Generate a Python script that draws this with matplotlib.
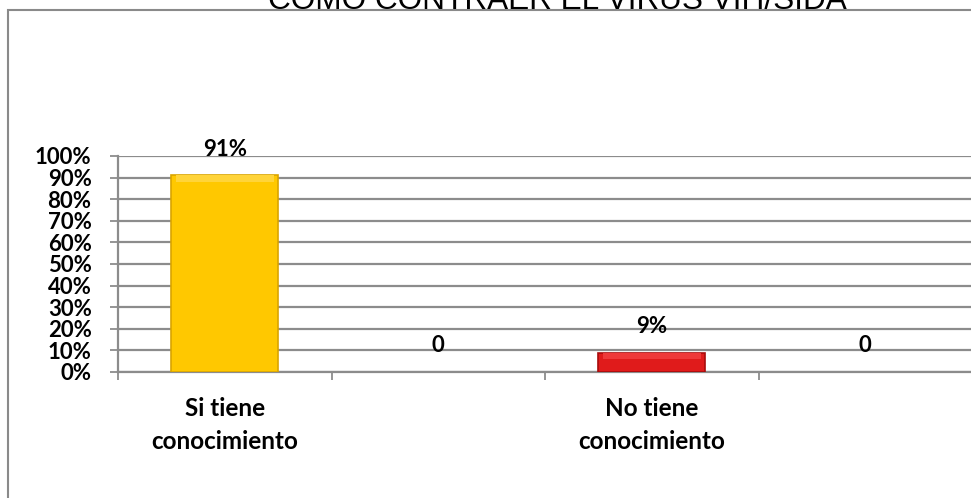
import matplotlib.pyplot as plt
from matplotlib.patches import Rectangle

categories = ['Si tiene\nconocimiento', '', 'No tiene\nconocimiento', '']
values = [0.91, 0.0, 0.09, 0.0]
labels = ['91%', '0', '9%', '0']
bar_colors = ['#FFC800', '#FFC800', '#E01B1B', '#E01B1B']
edge_colors = ['#D9A400', '#D9A400', '#A80C0C', '#A80C0C']
bevel_colors = ['#FFD43A', '#FFD43A', '#EE3A3A', '#EE3A3A']
title = 'CÓMO CONTRAER EL VIRUS VIH/SIDA'

grid_col = '#8c8c8c'
label_font = 'Lato'

fig = plt.figure(figsize=(9.71, 4.98), dpi=100)
W, H = 971, 498
ax = fig.add_axes([118 / W, 1 - 372 / H, 854 / W, 216 / H])

x = range(len(values))
bevel = 0.03
# only the non-empty slots get a drawn bar
for i, v in enumerate(values):
    if v > 0:
        ax.bar(i, v, width=0.5, color=bar_colors[i], edgecolor=edge_colors[i],
               linewidth=1.2, zorder=3)
        # lighter strip along the top edge, like the bevel in the original
        ax.bar(i, min(bevel, v / 3), bottom=v - min(bevel, v / 3), width=0.46,
               color=bevel_colors[i], linewidth=0, zorder=3.5)
    ax.annotate(labels[i], (i, v), xytext=(0, 19), textcoords='offset points',
                ha='center', va='center', fontsize=16, fontweight='bold',
                family=label_font, color='black', zorder=4)

ax.set_xlim(-0.5, len(values) - 0.5)
ax.set_ylim(0, 1)
ax.set_yticks([i / 10 for i in range(11)])
ax.set_yticklabels([f'{i * 10}%' for i in range(11)])
ax.yaxis.grid(True, color=grid_col, linewidth=1.6, zorder=0)
ax.set_axisbelow(True)

ax.set_xticks(list(x))
ax.set_xticklabels(categories, linespacing=1.55)
ax.set_xticks([i - 0.5 for i in range(len(values) + 1)], minor=True)
ax.tick_params(axis='x', which='major', length=0, pad=18)
ax.tick_params(axis='x', which='minor', length=6, width=1.3, color=grid_col)
ax.tick_params(axis='y', length=6, width=1.3, color=grid_col, pad=13)

for lab in ax.get_xticklabels():
    lab.set_fontsize(17.5)
    lab.set_fontweight('bold')
    lab.set_family(label_font)
for lab in ax.get_yticklabels():
    lab.set_fontsize(16)
    lab.set_fontweight('bold')
    lab.set_family(label_font)

for side in ['top', 'right']:
    ax.spines[side].set_visible(False)
for side in ['left', 'bottom']:
    ax.spines[side].set_color(grid_col)
    ax.spines[side].set_linewidth(1.6)

# chart area frame, cut by the image edges
fig.patches.append(Rectangle((8 / W, -0.2), 1.2, 1.2 - 10 / H,
                             transform=fig.transFigure, fill=False,
                             edgecolor='#8a8a8a', linewidth=1.5, clip_on=False))

fig.text(557 / W, 1 - 1 / H, title, ha='center', va='center',
         fontsize=22.7, family='Liberation Sans')

fig.savefig('out.png', dpi=100)
